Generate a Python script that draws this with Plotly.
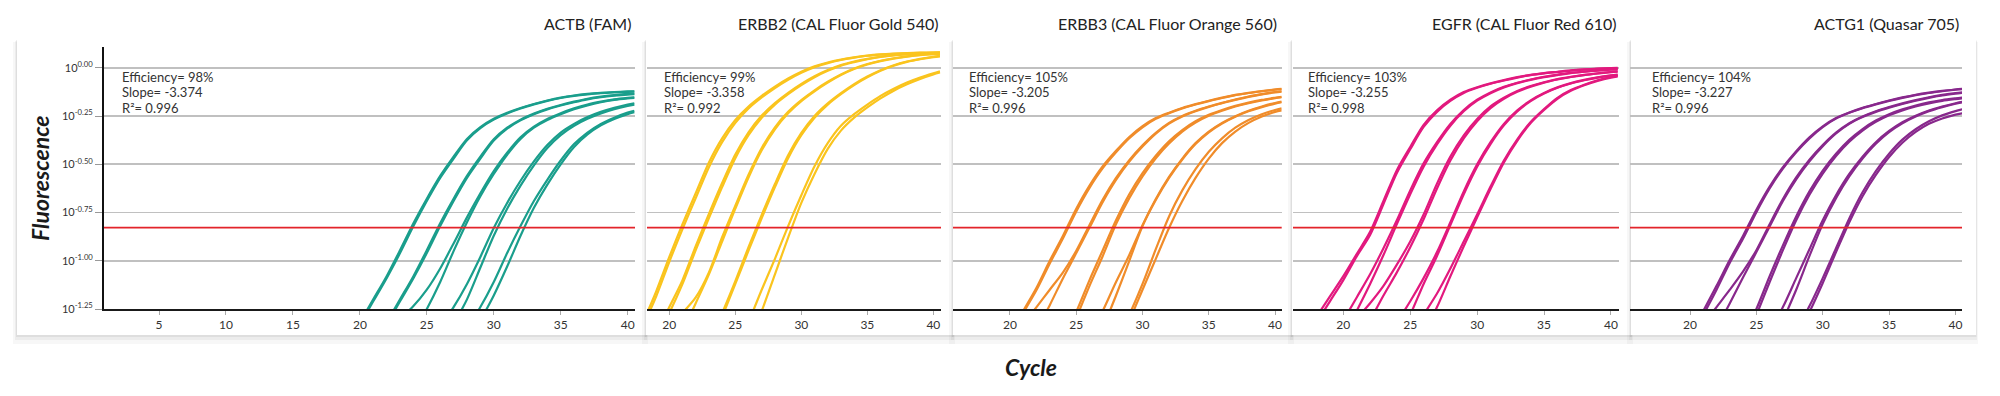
import plotly.graph_objects as go

# ---------------------------------------------------------------- data
PANEL_TITLES = ["ACTB (FAM)", "ERBB2 (CAL Fluor Gold 540)", "ERBB3 (CAL Fluor Orange 560)",
                "EGFR (CAL Fluor Red 610)", "ACTG1 (Quasar 705)"]
EFFICIENCY = ["98%", "99%", "105%", "103%", "104%"]
SLOPE = ["-3.374", "-3.358", "-3.205", "-3.255", "-3.227"]
R_SQUARED = ["0.996", "0.992", "0.996", "0.998", "0.996"]

X_TICKS = [[5, 10, 15, 20, 25, 30, 35, 40],
           [20, 25, 30, 35, 40],
           [20, 25, 30, 35, 40],
           [20, 25, 30, 35, 40],
           [20, 25, 30, 35, 40]]
Y_TICK_EXPONENTS = [-1.25, -1.0, -0.75, -0.5, -0.25, 0.0]
Y_TICK_TEXT = ["10<sup>-1.25</sup>", "10<sup>-1.00</sup>", "10<sup>-0.75</sup>",
               "10<sup>-0.50</sup>", "10<sup>-0.25</sup>", "10<sup>0.00</sup>"]
THRESHOLD_EXPONENT = -0.828
THRESHOLD_SPAN = [0, 42]

LAST_CYCLE = 40      # last integer cycle of each curve
EDGE_CYCLE = 40.5    # value read at the right edge of each plot

# log10(fluorescence) at consecutive integer cycles ending at cycle 40, then at the edge
ACTB = [
    [-1.33, -1.21, -1.09, -0.96, -0.82, -0.69, -0.57, -0.47, -0.375, -0.312, -0.268, -0.236, -0.21, -0.189, -0.171, -0.156, -0.145, -0.137, -0.131, -0.127, -0.124, -0.123],
    [-1.32, -1.20, -1.08, -0.945, -0.805, -0.678, -0.56, -0.46, -0.368, -0.307, -0.264, -0.233, -0.208, -0.187, -0.169, -0.154, -0.143, -0.135, -0.129, -0.125, -0.122, -0.121],
    [-1.33, -1.21, -1.09, -0.96, -0.82, -0.69, -0.57, -0.47, -0.377, -0.315, -0.272, -0.24, -0.215, -0.195, -0.178, -0.163, -0.152, -0.144, -0.138, -0.136],
    [-1.32, -1.20, -1.08, -0.945, -0.805, -0.678, -0.56, -0.46, -0.37, -0.31, -0.268, -0.237, -0.212, -0.192, -0.175, -0.16, -0.149, -0.141, -0.135, -0.133],
    [-1.30, -1.235, -1.15, -1.04, -0.91, -0.775, -0.65, -0.535, -0.44, -0.36, -0.305, -0.265, -0.235, -0.21, -0.19, -0.175, -0.163, -0.155, -0.152],
    [-1.37, -1.25, -1.11, -0.95, -0.80, -0.665, -0.55, -0.45, -0.368, -0.31, -0.27, -0.24, -0.214, -0.194, -0.178, -0.166, -0.158, -0.155],
    [-1.34, -1.24, -1.12, -0.98, -0.83, -0.70, -0.585, -0.485, -0.40, -0.335, -0.29, -0.255, -0.228, -0.207, -0.19, -0.183],
    [-1.33, -1.20, -1.035, -0.87, -0.73, -0.61, -0.505, -0.415, -0.348, -0.30, -0.264, -0.236, -0.214, -0.197, -0.19],
    [-1.35, -1.24, -1.11, -0.96, -0.82, -0.69, -0.58, -0.48, -0.395, -0.335, -0.29, -0.258, -0.232, -0.222],
    [-1.31, -1.18, -1.03, -0.87, -0.725, -0.605, -0.50, -0.41, -0.345, -0.298, -0.265, -0.24, -0.23],
]
ERBB2 = [
    [-1.32, -1.16, -0.98, -0.81, -0.65, -0.49, -0.365, -0.27, -0.2, -0.145, -0.097, -0.055, -0.02, 0.008, 0.028, 0.043, 0.055, 0.064, 0.07, 0.074, 0.077, 0.079, 0.08, 0.081],
    [-1.34, -1.185, -1.005, -0.835, -0.675, -0.515, -0.385, -0.285, -0.21, -0.153, -0.104, -0.061, -0.025, 0.004, 0.025, 0.041, 0.053, 0.063, 0.069, 0.073, 0.076, 0.078, 0.079, 0.08],
    [-1.38, -1.24, -1.10, -0.924, -0.757, -0.597, -0.449, -0.334, -0.247, -0.182, -0.129, -0.083, -0.043, -0.011, 0.015, 0.033, 0.047, 0.058, 0.066, 0.071, 0.075, 0.078, 0.079],
    [-1.40, -1.27, -1.12, -0.945, -0.779, -0.618, -0.468, -0.349, -0.258, -0.19, -0.136, -0.089, -0.048, -0.015, 0.012, 0.03, 0.045, 0.057, 0.065, 0.07, 0.074, 0.077, 0.078],
    [-1.34, -1.27, -1.19, -1.06, -0.878, -0.714, -0.554, -0.415, -0.308, -0.228, -0.167, -0.116, -0.072, -0.034, -0.003, 0.02, 0.037, 0.05, 0.06, 0.068, 0.072, 0.074],
    [-1.37, -1.22, -1.07, -0.90, -0.73, -0.568, -0.427, -0.318, -0.235, -0.172, -0.121, -0.076, -0.037, -0.006, 0.018, 0.035, 0.048, 0.058, 0.066, 0.071, 0.073],
    [-1.43, -1.272, -1.106, -0.929, -0.762, -0.602, -0.453, -0.337, -0.249, -0.184, -0.131, -0.084, -0.045, -0.012, 0.014, 0.033, 0.047, 0.058, 0.062],
    [-1.45, -1.29, -1.12, -0.947, -0.779, -0.618, -0.468, -0.349, -0.258, -0.19, -0.136, -0.089, -0.049, -0.015, 0.011, 0.031, 0.045, 0.056, 0.06],
    [-1.32, -1.15, -0.99, -0.82, -0.66, -0.51, -0.39, -0.30, -0.24, -0.19, -0.145, -0.108, -0.076, -0.05, -0.028, -0.018],
    [-1.42, -1.26, -1.07, -0.88, -0.70, -0.55, -0.42, -0.325, -0.258, -0.205, -0.158, -0.118, -0.085, -0.057, -0.034, -0.024],
]
ERBB3 = [
    [-1.38, -1.26, -1.14, -1.00, -0.87, -0.73, -0.61, -0.51, -0.43, -0.358, -0.302, -0.26, -0.232, -0.208, -0.188, -0.17, -0.154, -0.14, -0.129, -0.12, -0.112, -0.109],
    [-1.39, -1.27, -1.152, -1.014, -0.883, -0.744, -0.622, -0.52, -0.438, -0.365, -0.308, -0.264, -0.235, -0.21, -0.19, -0.172, -0.156, -0.141, -0.13, -0.121, -0.113, -0.11],
    [-1.33, -1.24, -1.15, -1.06, -0.948, -0.814, -0.682, -0.57, -0.478, -0.401, -0.336, -0.285, -0.249, -0.222, -0.2, -0.181, -0.164, -0.148, -0.136, -0.125, -0.121],
    [-1.36, -1.23, -1.09, -0.96, -0.828, -0.695, -0.581, -0.486, -0.408, -0.341, -0.289, -0.252, -0.225, -0.202, -0.183, -0.166, -0.15, -0.137, -0.127, -0.123],
    [-1.41, -1.265, -1.10, -0.945, -0.79, -0.655, -0.545, -0.455, -0.38, -0.322, -0.276, -0.243, -0.218, -0.197, -0.18, -0.166, -0.155, -0.15],
    [-1.44, -1.295, -1.13, -0.975, -0.81, -0.675, -0.562, -0.468, -0.392, -0.33, -0.283, -0.248, -0.222, -0.2, -0.183, -0.169, -0.157, -0.152],
    [-1.40, -1.26, -1.11, -0.97, -0.815, -0.68, -0.565, -0.47, -0.39, -0.33, -0.285, -0.25, -0.222, -0.2, -0.182, -0.175],
    [-1.35, -1.18, -1.00, -0.82, -0.685, -0.57, -0.475, -0.395, -0.334, -0.288, -0.253, -0.225, -0.203, -0.185, -0.178],
    [-1.42, -1.28, -1.12, -0.94, -0.77, -0.635, -0.525, -0.435, -0.365, -0.31, -0.27, -0.24, -0.218, -0.21],
    [-1.45, -1.31, -1.15, -0.99, -0.83, -0.69, -0.57, -0.47, -0.39, -0.33, -0.285, -0.252, -0.228, -0.22],
]
EGFR = [
    [-1.29, -1.185, -1.08, -0.965, -0.85, -0.69, -0.53, -0.41, -0.295, -0.22, -0.165, -0.125, -0.1, -0.08, -0.063, -0.048, -0.036, -0.027, -0.02, -0.013, -0.008, -0.004, -0.001, 0.0],
    [-1.32, -1.21, -1.10, -0.977, -0.866, -0.706, -0.545, -0.422, -0.306, -0.228, -0.171, -0.13, -0.103, -0.082, -0.065, -0.05, -0.037, -0.028, -0.021, -0.014, -0.009, -0.005, -0.002, -0.001],
    [-1.31, -1.19, -1.07, -0.935, -0.79, -0.635, -0.495, -0.385, -0.29, -0.218, -0.165, -0.127, -0.098, -0.077, -0.06, -0.046, -0.035, -0.026, -0.019, -0.013, -0.008, -0.006],
    [-1.40, -1.26, -1.12, -0.97, -0.81, -0.655, -0.512, -0.397, -0.3, -0.225, -0.17, -0.131, -0.101, -0.079, -0.062, -0.048, -0.037, -0.027, -0.02, -0.014, -0.009, -0.007],
    [-1.30, -1.22, -1.13, -1.02, -0.9, -0.76, -0.6, -0.46, -0.35, -0.265, -0.2, -0.155, -0.12, -0.094, -0.074, -0.058, -0.046, -0.036, -0.028, -0.021, -0.018],
    [-1.31, -1.18, -1.06, -0.93, -0.785, -0.625, -0.48, -0.365, -0.276, -0.208, -0.16, -0.124, -0.097, -0.076, -0.06, -0.047, -0.037, -0.029, -0.022, -0.019],
    [-1.32, -1.21, -1.09, -0.955, -0.80, -0.64, -0.5, -0.385, -0.29, -0.22, -0.168, -0.13, -0.101, -0.079, -0.062, -0.049, -0.039, -0.035],
    [-1.42, -1.28, -1.12, -0.975, -0.815, -0.655, -0.512, -0.395, -0.298, -0.226, -0.172, -0.133, -0.103, -0.081, -0.064, -0.05, -0.04, -0.036],
    [-1.39, -1.28, -1.17, -1.04, -0.90, -0.76, -0.615, -0.48, -0.37, -0.28, -0.213, -0.155, -0.115, -0.087, -0.064, -0.047, -0.041],
    [-1.37, -1.24, -1.08, -0.925, -0.775, -0.628, -0.49, -0.378, -0.286, -0.218, -0.16, -0.119, -0.09, -0.067, -0.05, -0.044],
]
ACTG1 = [
    [-1.38, -1.26, -1.13, -0.995, -0.87, -0.735, -0.615, -0.515, -0.432, -0.36, -0.303, -0.26, -0.231, -0.207, -0.187, -0.169, -0.153, -0.139, -0.128, -0.119, -0.112, -0.109],
    [-1.40, -1.28, -1.15, -1.01, -0.885, -0.748, -0.625, -0.522, -0.438, -0.366, -0.307, -0.263, -0.233, -0.209, -0.189, -0.171, -0.155, -0.141, -0.13, -0.121, -0.113, -0.11],
    [-1.33, -1.24, -1.15, -1.055, -0.945, -0.81, -0.68, -0.568, -0.476, -0.4, -0.336, -0.287, -0.252, -0.225, -0.203, -0.184, -0.167, -0.152, -0.14, -0.13, -0.126],
    [-1.35, -1.22, -1.085, -0.955, -0.822, -0.69, -0.578, -0.484, -0.406, -0.34, -0.29, -0.255, -0.228, -0.206, -0.187, -0.17, -0.155, -0.143, -0.134, -0.13],
    [-1.39, -1.25, -1.08, -0.92, -0.77, -0.64, -0.532, -0.445, -0.373, -0.317, -0.273, -0.24, -0.215, -0.195, -0.179, -0.167, -0.158, -0.154],
    [-1.42, -1.28, -1.11, -0.945, -0.79, -0.658, -0.548, -0.457, -0.383, -0.325, -0.28, -0.246, -0.22, -0.2, -0.184, -0.171, -0.162, -0.158],
    [-1.36, -1.24, -1.09, -0.94, -0.79, -0.66, -0.55, -0.46, -0.385, -0.327, -0.282, -0.248, -0.221, -0.2, -0.183, -0.176],
    [-1.31, -1.15, -0.975, -0.81, -0.675, -0.562, -0.47, -0.393, -0.333, -0.287, -0.252, -0.224, -0.203, -0.186, -0.179],
    [-1.36, -1.235, -1.09, -0.935, -0.78, -0.645, -0.535, -0.445, -0.372, -0.318, -0.277, -0.246, -0.224, -0.215],
    [-1.39, -1.265, -1.115, -0.955, -0.80, -0.665, -0.555, -0.462, -0.388, -0.332, -0.29, -0.262, -0.242, -0.235],
]
PANEL_CURVES = [ACTB, ERBB2, ERBB3, EGFR, ACTG1]

# ---------------------------------------------------------------- style / layout
W, H = 2000, 396
FONT = "Lato, 'Open Sans', sans-serif"
COLORS = ["#1a9e8c", "#fac41e", "#f08c2a", "#e2197e", "#88288c"]
THRESHOLD_COLOR = "#e3242b"
PLOT_X_PX = [(104, 635), (647, 941), (953, 1281.7), (1293, 1619), (1630, 1962)]
X_RANGES = [(0.888, 40.55), (18.31, 40.58), (15.70, 40.50), (16.24, 40.60), (15.48, 40.49)]
CARD_X_PX = [(17, 646), (646, 953), (953, 1292), (1292, 1631), (1631, 1976)]
CARD_TOP, CARD_BOTTOM = 40, 335
PLOT_TOP_PX, PLOT_BOTTOM_PX = 46.7, 309
Y_RANGE = [-1.25, 0.11]
STAT_X_PX = [120, 662, 967, 1306, 1650]
STAT_Y_PX = [77.3, 92.3, 107.8]
TITLE_RIGHT_PX = [633, 940, 1279, 1619, 1961]


def fx(p):
    return p / W


def fy(p):
    return 1 - p / H


def cycles_for(vals):
    n = len(vals) - 1
    return list(range(LAST_CYCLE - n + 1, LAST_CYCLE + 1)) + [EDGE_CYCLE]


fig = go.Figure()
layout = dict(
    width=W, height=H, margin=dict(l=0, r=0, t=0, b=0, pad=0),
    paper_bgcolor="white", plot_bgcolor="rgba(0,0,0,0)",
    showlegend=False, font=dict(family=FONT, color="#333333"),
)

shapes = []
for (c0, c1) in CARD_X_PX:
    for (dl, dt, dr, db, a) in [(4, 2, 2, 9, 0.03), (2, 1, 1, 5, 0.045), (1, 0, 0.5, 2, 0.06)]:
        shapes.append(dict(type="rect", xref="paper", yref="paper", layer="below",
                           x0=fx(c0 - dl), x1=fx(c1 + dr), y0=fy(CARD_BOTTOM + db), y1=fy(CARD_TOP + dt),
                           fillcolor=f"rgba(0,0,0,{a})", line=dict(width=0)))
    shapes.append(dict(type="rect", xref="paper", yref="paper", layer="below",
                       x0=fx(c0), x1=fx(c1), y0=fy(CARD_BOTTOM), y1=fy(CARD_TOP),
                       fillcolor="white", line=dict(width=0)))

annotations = []
for i, curves in enumerate(PANEL_CURVES):
    s = "" if i == 0 else str(i + 1)
    for vals in curves:
        fig.add_trace(go.Scatter(
            x=cycles_for(vals), y=[10 ** v for v in vals], mode="lines",
            line=dict(color=COLORS[i], width=2.2, shape="spline", smoothing=0.8),
            xaxis="x" + s, yaxis="y" + s, hoverinfo="skip"))
    fig.add_trace(go.Scatter(
        x=THRESHOLD_SPAN, y=[10 ** THRESHOLD_EXPONENT] * 2, mode="lines",
        line=dict(color=THRESHOLD_COLOR, width=1.7),
        xaxis="x" + s, yaxis="y" + s, hoverinfo="skip"))

    layout["xaxis" + s] = dict(
        domain=[fx(PLOT_X_PX[i][0]), fx(PLOT_X_PX[i][1])], range=list(X_RANGES[i]),
        anchor="y" + s, showgrid=False, zeroline=False, automargin=False,
        showline=True, linecolor="#1a1a1a", linewidth=2,
        ticks="outside", ticklen=4, tickwidth=1, tickcolor="#aaaaaa",
        tickvals=X_TICKS[i], tickfont=dict(family=FONT, size=12, color="#333333"),
        fixedrange=True)
    layout["yaxis" + s] = dict(
        domain=[fy(PLOT_BOTTOM_PX), fy(PLOT_TOP_PX)], type="log", range=Y_RANGE,
        anchor="x" + s, tickvals=[10 ** e for e in Y_TICK_EXPONENTS], ticktext=Y_TICK_TEXT,
        showgrid=True, gridcolor="#c0c0c0", gridwidth=1.8, zeroline=False, automargin=False,
        showticklabels=(i == 0), showline=(i == 0), linecolor="#111111", linewidth=2,
        ticks="outside" if i == 0 else "", ticklen=7, tickwidth=1, tickcolor="#999999",
        tickfont=dict(family=FONT, size=11, color="#333333"), fixedrange=True)

    annotations.append(dict(
        text=PANEL_TITLES[i], xref="paper", yref="paper", x=fx(TITLE_RIGHT_PX[i]), y=fy(24),
        xanchor="right", yanchor="middle", showarrow=False,
        font=dict(family=FONT, size=16, color="#222222")))
    stats = [f"Efficiency= {EFFICIENCY[i]}", f"Slope= {SLOPE[i]}", f"R\u00b2= {R_SQUARED[i]}"]
    for line_text, ypx in zip(stats, STAT_Y_PX):
        annotations.append(dict(
            text=line_text, xref="paper", yref="paper", x=fx(STAT_X_PX[i]), y=fy(ypx),
            xanchor="left", yanchor="middle", showarrow=False,
            font=dict(family=FONT, size=13, color="#333333")))

annotations.append(dict(
    text="<b><i>Fluorescence</i></b>", xref="paper", yref="paper", x=fx(40), y=fy(178),
    xanchor="center", yanchor="middle", textangle=-90, showarrow=False,
    font=dict(family=FONT, size=23, color="#1a1a1a")))
annotations.append(dict(
    text="<b><i>Cycle</i></b>", xref="paper", yref="paper", x=fx(1031), y=fy(367),
    xanchor="center", yanchor="middle", showarrow=False,
    font=dict(family=FONT, size=23, color="#1a1a1a")))

layout["shapes"] = shapes
layout["annotations"] = annotations
fig.update_layout(**layout)
fig.write_html(
    "out.html",
    config={"displayModeBar": False, "staticPlot": True},
    post_script="document.body.style.margin='0px';document.body.style.overflow='hidden';",
)
